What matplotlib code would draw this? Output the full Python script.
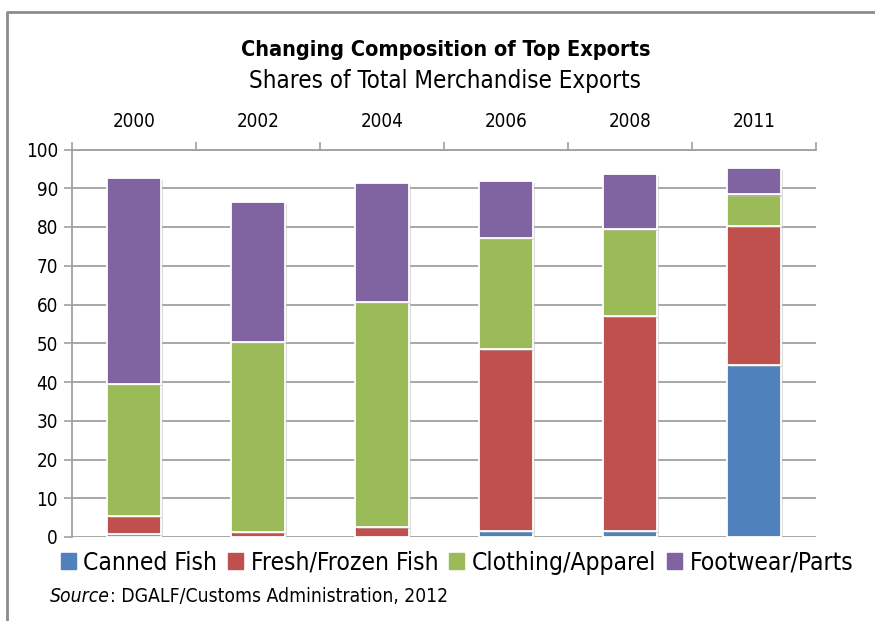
import matplotlib
matplotlib.use("Agg")
import matplotlib.pyplot as plt
from matplotlib.lines import Line2D
from matplotlib.font_manager import FontProperties
import matplotlib.patheffects as pe
import numpy as np

years = ["2000", "2002", "2004", "2006", "2008", "2011"]
canned = [0.7, 0.0, 0.0, 1.6, 1.6, 44.3]
fresh = [4.8, 1.4, 2.7, 46.9, 55.4, 36.0]
clothing = [34.0, 48.9, 57.9, 28.7, 22.5, 8.1]
footwear = [53.2, 36.1, 30.8, 14.6, 14.1, 6.9]
series_names = ["Canned Fish", "Fresh/Frozen Fish", "Clothing/Apparel", "Footwear/Parts"]
colors = ["#4F81BD", "#C0504D", "#9BBB59", "#8064A2"]

plt.rcParams['font.family'] = ['DejaVu Sans']
plt.rcParams['font.stretch'] = 'condensed'

W, H = 875, 621
fig = plt.figure(figsize=(W/100, H/100), dpi=100)
ax = fig.add_axes([72/W, 1-537/H, (816-72)/W, (537-149.5)/H])

x = np.arange(len(years))
bottom = np.zeros(len(years))
shadow = [pe.SimplePatchShadow(offset=(1.5, -1.5), shadow_rgbFace="#BBBBBB", alpha=0.5), pe.Normal()]
for vals, c, name in zip([canned, fresh, clothing, footwear], colors, series_names):
    bars = ax.bar(x, vals, width=0.44, bottom=bottom, color=c, edgecolor="white",
                  linewidth=1.3, label=name, zorder=3)
    for b in bars:
        b.set_path_effects(shadow)
    bottom += np.array(vals)

ax.set_xlim(-0.5, len(years)-0.5)
ax.set_ylim(0, 100)
ax.set_yticks(np.arange(0, 101, 10))
ax.yaxis.grid(True, color="#A0A0A0", linewidth=1.3, zorder=0)
ax.set_axisbelow(True)

ax.xaxis.tick_top()
ax.set_xticks(x)
ax.set_xticklabels(years, fontsize=13.5)
ax.set_xticks(np.arange(-0.5, len(years), 1.0), minor=True)
ax.tick_params(axis='x', which='major', length=0, pad=13)
ax.tick_params(axis='x', which='minor', length=6, color="#A0A0A0", width=1.2, direction='out')
ax.tick_params(axis='y', length=6, color="#A0A0A0", width=1.2, labelsize=13.5, pad=4)

for s in ["right", "bottom"]:
    ax.spines[s].set_visible(False)
for s in ["left", "top"]:
    ax.spines[s].set_color("#A0A0A0")
    ax.spines[s].set_linewidth(1.3)

renderer = fig.canvas.get_renderer()

def fit_text(xc, yc, s, target_w, size, **kw):
    t = fig.text(xc/W, 1-yc/H, s, ha="center", va="center", fontsize=size, **kw)
    w = t.get_window_extent(renderer).width
    t.set_fontsize(size*target_w/w)
    return t

fit_text(446, 50, "Changing Composition of Top Exports", 412, 15, fontweight="bold")
fit_text(445, 81, "Shares of Total Merchandise Exports", 392, 15)

handles = [plt.Rectangle((0, 0), 1, 1, color=c) for c in colors]

def make_legend(size):
    return fig.legend(handles, series_names, loc="center", bbox_to_anchor=(457/W, 1-563/H),
                      ncol=4, frameon=False, prop=FontProperties(size=size, stretch='condensed'),
                      handlelength=0.62, handleheight=0.62, handletextpad=0.3,
                      columnspacing=0.45, borderpad=0, borderaxespad=0)

leg = make_legend(17)
w = leg.get_window_extent(renderer).width
leg.remove()
leg = make_legend(17*789/w)

src_size = 13.5
t1 = fig.text(50/W, 1-596/H, "Source", fontsize=src_size, fontstyle="italic", va="center", ha="left")
t2 = fig.text(0, 1-596/H, ": DGALF/Customs Administration, 2012", fontsize=src_size,
              va="center", ha="left")
tot = t1.get_window_extent(renderer).width + t2.get_window_extent(renderer).width
src_size = src_size*398/tot
t1.set_fontsize(src_size)
t2.set_fontsize(src_size)
bb = t1.get_window_extent(renderer)
t2.set_x(bb.x1/W)

frame = Line2D([7/W, 7/W, 1.0], [0.0, 1-12/H, 1-12/H], transform=fig.transFigure,
               color="#8C8C8C", linewidth=2)
fig.add_artist(frame)

fig.savefig("out.png", dpi=100)
